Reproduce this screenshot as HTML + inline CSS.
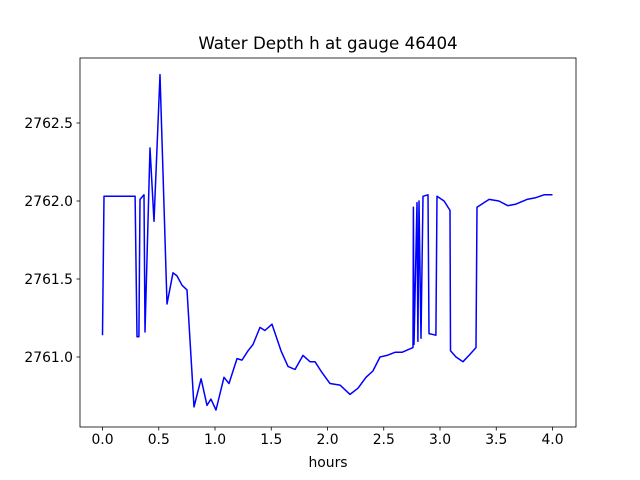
<!DOCTYPE html>
<html><head><meta charset="utf-8"><style>body{margin:0;background:#fff}svg{display:block;font-family:"DejaVu Sans","Liberation Sans",sans-serif}</style></head>
<body>
<svg id="c" width="640" height="480"></svg>
<script>
const hours=[0,0.013,0.29,0.307,0.324,0.333,0.369,0.378,0.422,0.458,0.511,0.573,0.627,0.662,0.707,0.751,0.813,0.876,0.929,0.964,1.009,1.08,1.124,1.196,1.24,1.293,1.338,1.4,1.444,1.507,1.587,1.649,1.711,1.782,1.844,1.889,1.951,2.022,2.111,2.2,2.271,2.342,2.404,2.467,2.529,2.6,2.662,2.76,2.764,2.769,2.796,2.804,2.813,2.831,2.849,2.893,2.902,2.964,2.973,3.036,3.089,3.093,3.142,3.204,3.258,3.32,3.329,3.436,3.524,3.604,3.676,3.773,3.844,3.924,4.0];
const depth=[2761.14,2762.03,2762.03,2761.13,2761.13,2762.01,2762.04,2761.16,2762.34,2761.87,2762.81,2761.34,2761.54,2761.52,2761.46,2761.43,2760.68,2760.86,2760.69,2760.73,2760.66,2760.87,2760.83,2760.99,2760.98,2761.04,2761.08,2761.19,2761.17,2761.21,2761.04,2760.94,2760.92,2761.01,2760.97,2760.97,2760.90,2760.83,2760.82,2760.76,2760.80,2760.87,2760.91,2761.0,2761.01,2761.03,2761.03,2761.06,2761.96,2761.08,2761.99,2761.10,2762.0,2761.12,2762.03,2762.04,2761.15,2761.14,2762.03,2762.0,2761.94,2761.04,2761.0,2760.97,2761.01,2761.06,2761.96,2762.01,2762.0,2761.97,2761.98,2762.01,2762.02,2762.04,2762.04];
const xTicks=[0,0.5,1,1.5,2,2.5,3,3.5,4];
const xTickLabels=["0.0","0.5","1.0","1.5","2.0","2.5","3.0","3.5","4.0"];
const yTicks=[2761.0,2761.5,2762.0,2762.5];
const yTickLabels=["2761.0","2761.5","2762.0","2762.5"];
const L=80,R=576,T=58,B=427;
const xs=t=>102.5+t*112.5;
const ys=v=>201-(v-2762)*156;
const svg=document.getElementById('c');const NS='http://www.w3.org/2000/svg';
function mk(tag,a,parent){const e=document.createElementNS(NS,tag);for(const k in a)e.setAttribute(k,a[k]);(parent||svg).appendChild(e);return e;}
let pts=hours.map((h,i)=>xs(h).toFixed(1)+','+ys(depth[i]).toFixed(1)).join(' ');
const line=mk('polyline',{points:pts,fill:'none',stroke:'#0000ff','stroke-width':1.5,'stroke-linejoin':'round'});


const frame=mk('rect',{x:L,y:T,width:R-L,height:B-T,fill:'none',stroke:'#000','stroke-width':0.8});


xTicks.forEach((t,i)=>{const x=xs(t);
 const tk=mk('line',{x1:x,x2:x,y1:B,y2:B+3.5,stroke:'#000','stroke-width':0.8});
 
 
 const tx=mk('text',{x:x,y:B+17,'font-size':'13.9','text-anchor':'middle'});tx.textContent=xTickLabels[i];
 
 });
yTicks.forEach((v,i)=>{const y=ys(v);
 const tk=mk('line',{x1:L-3.5,x2:L,y1:y,y2:y,stroke:'#000','stroke-width':0.8});
 
 
 const tx=mk('text',{x:L-7,y:y+5,'font-size':'13.9','text-anchor':'end'});tx.textContent=yTickLabels[i];
 
 });
const ti=mk('text',{x:328,y:49,'font-size':'16.7','text-anchor':'middle'});ti.textContent='Water Depth h at gauge 46404';


const xl=mk('text',{x:328,y:467,'font-size':'13.9','text-anchor':'middle'});xl.textContent='hours';


</script>
</body></html>
